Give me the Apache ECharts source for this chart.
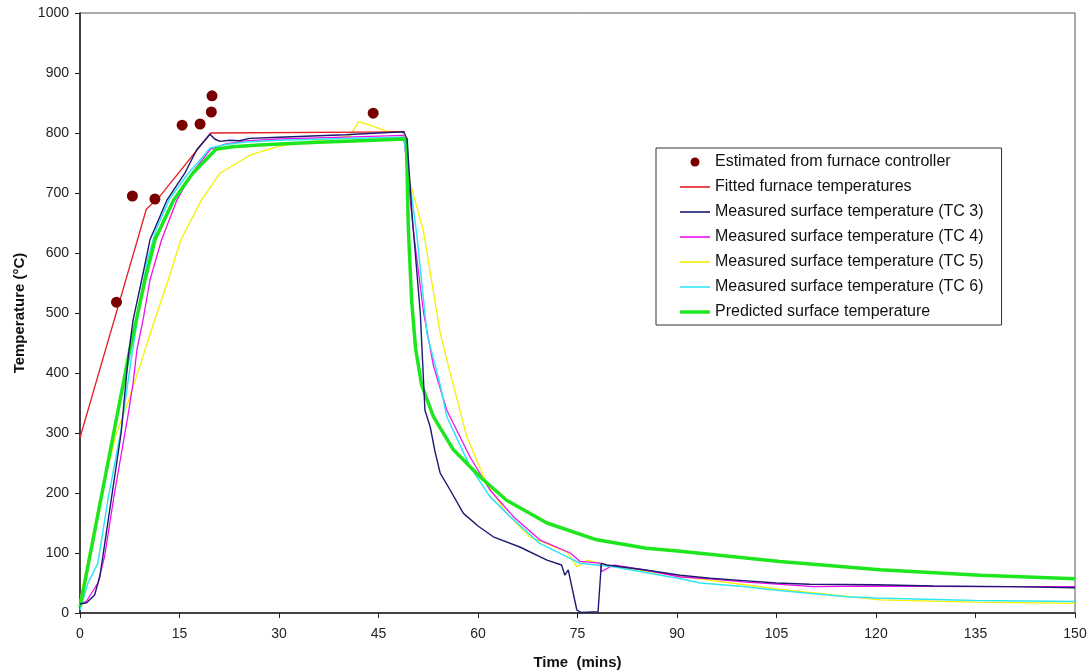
<!DOCTYPE html>
<html>
<head>
<meta charset="utf-8">
<title>Furnace test temperatures</title>
<script src="https://cdn.jsdelivr.net/npm/echarts@6/dist/echarts.min.js"></script>
<style>
  html, body { margin: 0; padding: 0; background: #fff; }
  #chart { width: 1088px; height: 671px; }
</style>
</head>
<body>
<div id="chart"></div>
<script>
// time (mins), temperature (°C)
var controllerPts = [[5.5, 518], [7.9, 695], [11.3, 690], [15.4, 813], [18.1, 815], [19.8, 835], [19.9, 862], [44.2, 833]];

var fittedFurnace = [[0, 292], [10, 673], [12, 694], [19.7, 800], [49, 802]];

var tc3 = [[0, 15], [1, 17], [2.2, 30], [3, 61], [4.7, 188], [6.2, 300], [7.3, 430], [8, 488], [9.3, 555],
  [10.55, 622], [13.1, 688], [15.8, 733], [17.6, 772], [19.6, 798], [20.3, 790], [21.1, 786], [22.6, 788],
  [24, 787], [25.6, 791], [30, 793], [35, 795], [40, 797], [45, 800], [48.8, 802], [49.3, 790], [50, 672],
  [51.3, 500], [52, 338], [52.8, 310], [53.5, 270], [54.3, 233], [55.8, 205], [57.8, 166], [60, 145],
  [62.3, 127], [66.3, 110], [70.4, 88], [72.6, 80], [73.1, 63], [73.6, 72], [74.9, 5], [75.5, 1], [78.1, 2],
  [78.6, 83], [79.4, 80], [85, 72], [90.5, 63], [95, 58], [100, 54], [105, 50], [110, 48], [120, 47],
  [128.6, 45], [140, 44], [150, 42]];

var tc4 = [[0, 15], [1, 20], [2.7, 50], [3.7, 94], [5.2, 200], [7.2, 327], [8, 383], [8.6, 440], [9.5, 488],
  [10.55, 555], [12.3, 622], [14.6, 688], [17, 735], [19.7, 773], [22, 782], [25, 787], [30, 790], [40, 793],
  [48.8, 796], [50.3, 633], [51.8, 500], [53.3, 411], [55.3, 338], [58.8, 260], [61.8, 205], [65.3, 161],
  [69.3, 122], [73.9, 100], [75.4, 86], [78.4, 83], [78.6, 69], [80.4, 80], [86, 70], [90.5, 60], [95, 57],
  [100, 52], [110.6, 44], [120, 45], [135, 44], [150, 44]];

var tc5 = [[0, 20], [0.3, 38], [1.7, 116], [3, 190], [5.5, 300], [7.2, 350], [9, 411], [11.25, 488],
  [13.3, 555], [15.2, 622], [18.3, 688], [21.1, 733], [25.6, 763], [30, 778], [35, 786], [40.7, 795],
  [42, 819], [43.7, 813], [46.2, 803], [48.7, 802], [49.8, 716], [51.8, 635], [54.3, 467], [55.3, 422],
  [58.3, 294], [61.3, 216], [64.3, 166], [67.8, 127], [73.4, 102], [74.9, 77], [76.4, 88], [79.4, 80],
  [90, 62], [105, 40], [120.6, 22], [135, 18], [150, 16]];

var tc6 = [[0, 5], [1.2, 50], [2.7, 83], [4.2, 188], [6.2, 305], [7.7, 422], [8.4, 470], [9.2, 530],
  [10.2, 590], [11.5, 640], [13.5, 690], [16.3, 733], [18.1, 755], [19.6, 775], [22, 781], [25, 785],
  [30, 788], [40, 791], [48.8, 793], [50.75, 633], [52.3, 466], [54.3, 380], [55.3, 327], [58.8, 244],
  [61.8, 194], [64.8, 161], [69.3, 116], [73.9, 91], [75.4, 83], [80.4, 77], [90.5, 57], [93.5, 50],
  [100, 44], [105, 38], [115.6, 27], [120, 25], [135, 21], [150, 19]];

var predicted = [[0, 10], [7.5, 438], [9.8, 555], [11.3, 622], [14.1, 688], [17, 733], [20.5, 773],
  [23, 777], [27, 780], [35, 784], [49.2, 790], [49.5, 640], [50, 520], [50.6, 440], [51.5, 380],
  [53.3, 327], [56.3, 272], [60.3, 227], [64.3, 188], [70.4, 150], [77.9, 122], [85.4, 108], [90.5, 103],
  [105.5, 86], [120.6, 72], [135.7, 63], [150, 57]];

var xTicks = { min: 0, max: 150, step: 15 };
var yTicks = { min: 0, max: 1000, step: 100 };

var FONT = 'Liberation Sans, Arial, sans-serif';
// flat bar icons for the line entries of the legend
var THIN = 'path://M0,0L30,0L30,1.6L0,1.6Z';
var THICK = 'path://M0,0L30,0L30,3.5L0,3.5Z';

function lineSeries(name, data, color, width, z) {
  return {
    name: name,
    type: 'line',
    data: data,
    symbol: 'none',
    z: z,
    lineStyle: { color: color, width: width },
    itemStyle: { color: color },
    emphasis: { disabled: true }
  };
}

var chart = echarts.init(document.getElementById('chart'));
chart.setOption({
  animation: false,
  textStyle: { fontFamily: FONT },
  grid: {
    left: 80, top: 13, right: 13, bottom: 58,
    outerBoundsMode: 'none',
    show: true, borderColor: '#555', borderWidth: 1
  },
  legend: {
    orient: 'vertical',
    left: 656, top: 148,
    padding: [6, 18, 5, 24],
    itemWidth: 30, itemHeight: 9, itemGap: 9,
    backgroundColor: '#fff',
    borderColor: '#333', borderWidth: 1,
    textStyle: { fontFamily: FONT, fontSize: 16, color: '#111' },
    data: [
      { name: 'Estimated from furnace controller', icon: 'circle' },
      { name: 'Fitted furnace temperatures', icon: THIN },
      { name: 'Measured surface temperature (TC 3)', icon: THIN },
      { name: 'Measured surface temperature (TC 4)', icon: THIN },
      { name: 'Measured surface temperature (TC 5)', icon: THIN },
      { name: 'Measured surface temperature (TC 6)', icon: THIN },
      { name: 'Predicted surface temperature', icon: THICK }
    ]
  },
  xAxis: {
    type: 'value',
    min: xTicks.min, max: xTicks.max, interval: xTicks.step,
    name: 'Time  (mins)',
    nameLocation: 'middle', nameGap: 42,
    nameTextStyle: { fontFamily: FONT, fontSize: 15, fontWeight: 'bold', color: '#111' },
    axisLine: { lineStyle: { color: '#222', width: 1.5 } },
    axisTick: { show: true, length: 5, lineStyle: { color: '#222' } },
    axisLabel: { fontFamily: FONT, fontSize: 14, color: '#222', margin: 14 },
    splitLine: { show: false }
  },
  yAxis: {
    type: 'value',
    min: yTicks.min, max: yTicks.max, interval: yTicks.step,
    name: 'Temperature (°C)',
    nameLocation: 'middle', nameGap: 53, nameRotate: 90,
    nameTextStyle: { fontFamily: FONT, fontSize: 15, fontWeight: 'bold', color: '#111' },
    axisLine: { show: true, lineStyle: { color: '#222', width: 1.5 } },
    axisTick: { show: true, length: 5, lineStyle: { color: '#222' } },
    axisLabel: {
      fontFamily: FONT, fontSize: 14, color: '#222', margin: 11,
      formatter: function (v) { return String(v); }
    },
    splitLine: { show: false }
  },
  series: [
    lineSeries('Fitted furnace temperatures', fittedFurnace, '#e61e24', 1.3, 3),
    lineSeries('Measured surface temperature (TC 5)', tc5, '#f4f000', 1.3, 2),
    lineSeries('Measured surface temperature (TC 4)', tc4, '#f010f0', 1.3, 3),
    lineSeries('Measured surface temperature (TC 6)', tc6, '#30e6f4', 1.5, 3),
    lineSeries('Predicted surface temperature', predicted, '#1ee61e', 3.5, 4),
    lineSeries('Measured surface temperature (TC 3)', tc3, '#1c1a72', 1.4, 5),
    {
      name: 'Estimated from furnace controller',
      type: 'scatter',
      data: controllerPts,
      symbol: 'circle',
      symbolSize: 11,
      z: 6,
      itemStyle: { color: '#7a0000', opacity: 1 },
      emphasis: { disabled: true }
    }
  ]
});
</script>
</body>
</html>
